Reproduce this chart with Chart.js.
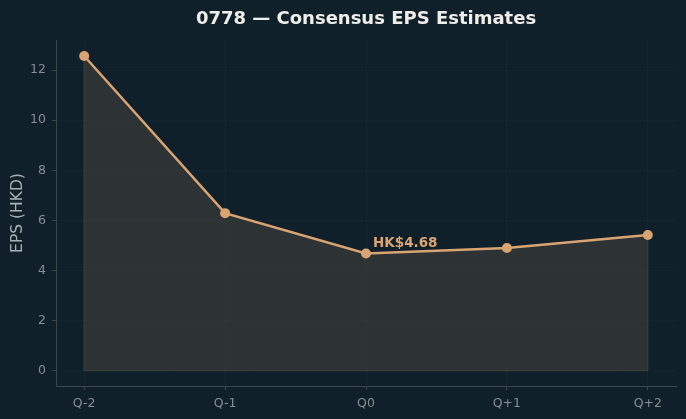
<!DOCTYPE html>
<html>
<head>
<meta charset="utf-8">
<script src="https://cdn.jsdelivr.net/npm/chart.js@4.4.1/dist/chart.umd.min.js"></script>
<style>
  html, body { margin: 0; padding: 0; background: #10202a; }
  #wrap { width: 686px; height: 419px; position: relative; }
</style>
</head>
<body>
<div id="wrap"><canvas id="c" width="686" height="419"></canvas></div>
<script>
// quarters relative to the current one
const quarters = ['Q-2', 'Q-1', 'Q0', 'Q+1', 'Q+2'];
const epsValues = [12.56, 6.29, 4.68, 4.90, 5.42];
const yTicks = [0, 2, 4, 6, 8, 10, 12];
const currentIdx = 2;
const chartTitle = '0778 \u2014 Consensus EPS Estimates';

const tan = '#d9a472';
const tickGrey = '#858e93';
const spine = '#3b464c';

const extras = {
	id: 'extras',
	beforeDatasetsDraw(chart) {
		// edge of the shaded area
		const { ctx, scales: { x, y } } = chart;
		const y0 = y.getPixelForValue(0);
		const last = quarters.length - 1;
		ctx.save();
		ctx.strokeStyle = '#41443d';
		ctx.lineWidth = 1;
		ctx.beginPath();
		ctx.moveTo(x.getPixelForValue(0), y.getPixelForValue(epsValues[0]));
		ctx.lineTo(x.getPixelForValue(0), y0);
		ctx.lineTo(x.getPixelForValue(last), y0);
		ctx.lineTo(x.getPixelForValue(last), y.getPixelForValue(epsValues[last]));
		ctx.stroke();
		ctx.restore();
	},
	afterDraw(chart) {
		const { ctx, scales: { x, y } } = chart;
		ctx.save();
		ctx.fillStyle = '#f0eee9';
		ctx.font = 'bold 18px "DejaVu Sans"';
		ctx.textAlign = 'center';
		ctx.textBaseline = 'alphabetic';
		ctx.fillText(chartTitle, 366, 24);

		ctx.fillStyle = tan;
		ctx.font = 'bold 13.5px "DejaVu Sans"';
		ctx.textAlign = 'left';
		const px = x.getPixelForValue(currentIdx);
		const py = y.getPixelForValue(epsValues[currentIdx]);
		ctx.fillText('HK$' + epsValues[currentIdx].toFixed(2), px + 7, py - 6);
		ctx.restore();
	}
};

new Chart(document.getElementById('c'), {
	type: 'line',
	data: {
		datasets: [{
			data: epsValues.map((v, i) => ({ x: i, y: v })),
			borderColor: tan,
			backgroundColor: 'rgba(70,68,60,0.55)',
			fill: 'origin',
			borderWidth: 2.5,
			pointRadius: 5,
			pointBackgroundColor: tan,
			pointBorderColor: tan,
			pointBorderWidth: 0,
			tension: 0
		}]
	},
	options: {
		responsive: false,
		animation: false,
		layout: { padding: { top: 40, right: 10, left: 0, bottom: 0 } },
		plugins: { legend: { display: false }, tooltip: { enabled: false }, title: { display: false } },
		scales: {
			x: {
				type: 'linear',
				min: -0.2,
				max: 4.2,
				afterFit: s => { s.height = 33; },
				afterBuildTicks: s => { s.ticks = quarters.map((q, i) => ({ value: i })); },
				ticks: {
					color: tickGrey,
					font: { family: 'DejaVu Sans', size: 12.5 },
					padding: 6,
					callback: v => quarters[v]
				},
				grid: { color: 'rgba(255,255,255,0.025)', tickColor: spine, tickLength: 4 },
				border: { color: spine, width: 1 }
			},
			y: {
				min: -0.61,
				max: 13.2,
				afterFit: s => { s.width = 56; },
				afterBuildTicks: s => { s.ticks = yTicks.map(v => ({ value: v })); },
				ticks: {
					color: tickGrey,
					font: { family: 'DejaVu Sans', size: 12.5 },
					padding: 6
				},
				title: {
					display: true,
					text: 'EPS (HKD)',
					color: '#a9b0b4',
					font: { family: 'DejaVu Sans', size: 15.5 },
					padding: { top: 9, bottom: 0 }
				},
				grid: { color: 'rgba(255,255,255,0.025)', tickColor: spine, tickLength: 4 },
				border: { color: spine, width: 1 }
			}
		}
	},
	plugins: [extras]
});
</script>
</body>
</html>
